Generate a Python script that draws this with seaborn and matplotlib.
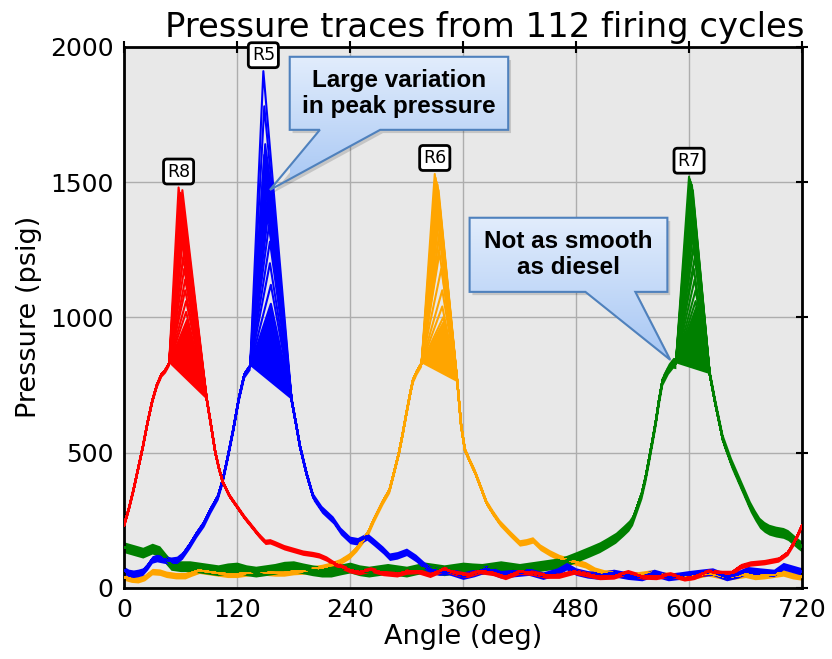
import matplotlib
matplotlib.use('Agg')
import matplotlib.pyplot as plt
import seaborn as sns
import numpy as np
import pandas as pd
from matplotlib.patches import Polygon
from matplotlib.colors import LinearSegmentedColormap

# --- data (crank angle in deg, pressure in psig) ---
# per cylinder: trace up to the combustion shoulder, trace after the peak,
# and the peak (angle, pressure) of a sample of the 112 cycles
r8_rise_angle = [0, 5, 10, 15, 20, 25, 30, 35, 40, 44, 48]
r8_rise_psig = [230, 290, 360, 440, 520, 610, 690, 750, 790, 805, 830]
r8_fall_angle = [88, 92, 97, 101, 105, 112, 120, 128, 135, 143, 150, 155, 160, 170, 180, 190, 200,
                 207, 215, 222, 230, 240, 250, 262, 275, 290, 300, 312, 325, 340, 352, 365, 378,
                 392, 405, 420, 435, 448, 462, 478, 492, 505, 520, 535, 550, 565, 580, 595, 605,
                 620, 635, 645, 655, 665, 680, 695, 705, 712, 720]
r8_fall_psig = [695, 610, 500, 440, 390, 340, 300, 260, 230, 195, 170, 172, 165, 150, 140, 130, 125,
                120, 108, 92, 80, 65, 58, 68, 55, 50, 60, 62, 48, 70, 55, 48, 62,
                55, 40, 60, 55, 45, 45, 60, 50, 40, 42, 58, 42, 40, 50, 35, 40,
                60, 55, 55, 80, 90, 95, 105, 130, 170, 230]
r8_peak_angle = [58, 62, 60, 61, 59, 62, 60, 63, 61, 62, 60, 63, 61, 62, 63, 62, 64, 63, 64, 65,
                 65, 66, 66, 67]
r8_peak_psig = [1480, 1470, 1460, 1450, 1440, 1430, 1420, 1410, 1400, 1390, 1380, 1360, 1340, 1320,
                1300, 1280, 1250, 1220, 1180, 1140, 1100, 1060, 1020, 990]

r5_rise_angle = [0, 5, 10, 15, 20, 25, 30, 35, 42, 50, 56, 62, 70, 77, 85, 92, 100, 105, 110, 116,
                 122, 128, 134]
r5_rise_psig = [65, 55, 52, 55, 60, 80, 105, 110, 105, 100, 103, 120, 160, 200, 240, 290, 340, 400,
                480, 584, 700, 790, 820]
r5_fall_angle = [178, 183, 187, 194, 201, 210, 222, 230, 240, 248, 258, 265, 275, 282, 290, 300, 310,
                 318, 325, 335, 345, 360, 372, 385, 400, 415, 430, 445, 460, 470, 480, 492, 505,
                 520, 535, 550, 563, 578, 590, 600, 612, 625, 640, 652, 662, 675, 690, 700, 710, 720]
r5_fall_psig = [695, 600, 521, 420, 336, 290, 251, 210, 177, 172, 190, 170, 140, 115, 120, 133, 110,
                85, 67, 60, 62, 45, 55, 70, 50, 55, 60, 45, 60, 80, 60, 50, 45,
                55, 45, 40, 55, 40, 45, 50, 55, 60, 40, 50, 65, 60, 55, 80, 70, 60]
r5_peak_angle = [148, 149, 150, 151, 149, 152, 150, 151, 153, 150, 152, 151, 153, 152, 151, 153,
                 154, 152, 153, 154, 155, 155, 156, 156]
r5_peak_psig = [1910, 1780, 1640, 1610, 1600, 1590, 1580, 1570, 1560, 1550, 1540, 1530, 1520, 1500,
                1480, 1460, 1440, 1410, 1380, 1340, 1280, 1200, 1120, 1050]

r6_rise_angle = [0, 8, 15, 22, 30, 38, 45, 55, 65, 72, 80, 90, 100, 110, 120, 130, 140, 150, 160,
                 170, 180, 190, 200, 210, 218, 229, 240, 247, 254, 260, 265, 270, 275, 282, 287,
                 292, 296, 300, 304, 307, 311, 316]
r6_rise_psig = [40, 32, 30, 38, 60, 58, 50, 45, 45, 55, 65, 60, 55, 50, 50, 55, 60, 58, 55,
                55, 60, 62, 70, 75, 82, 96, 120, 145, 177, 210, 250, 285, 320, 362, 430,
                500, 570, 647, 720, 769, 800, 830]
r6_fall_angle = [354, 358, 362, 367, 373, 379, 385, 392, 399, 410, 420, 427, 434, 442, 452, 462, 470,
                 480, 490, 500, 510, 520, 530, 540, 550, 560, 570, 580, 590, 600, 610, 620, 630,
                 640, 650, 660, 670, 680, 690, 700, 710, 720]
r6_fall_psig = [760, 600, 510, 470, 425, 370, 314, 275, 240, 200, 166, 170, 177, 150, 129, 112, 103,
                95, 85, 65, 55, 55, 48, 45, 50, 55, 48, 45, 42, 40, 48, 55, 48,
                40, 45, 50, 42, 45, 50, 55, 45, 40]
r6_peak_angle = [330, 331, 332, 333, 331, 334, 332, 333, 334, 331, 335, 333, 334, 335, 334, 336,
                 335, 336, 335, 337, 338, 338, 339, 339]
r6_peak_psig = [1530, 1515, 1500, 1490, 1480, 1470, 1460, 1450, 1440, 1430, 1420, 1410, 1400, 1380,
                1360, 1340, 1310, 1280, 1240, 1180, 1100, 1040, 1000, 980]

r7_rise_angle = [0, 10, 20, 30, 38, 45, 50, 60, 70, 80, 90, 100, 110, 120, 130, 140, 150, 160, 170,
                 180, 190, 200, 210, 220, 230, 240, 250, 260, 270, 280, 290, 300, 310, 320, 330,
                 340, 350, 360, 370, 380, 390, 400, 410, 420, 430, 440, 450, 460, 470, 481, 495,
                 505, 513, 522, 530, 536, 540, 545, 550, 554, 558, 562, 565, 568, 572, 578, 583, 586]
r7_rise_psig = [150, 140, 130, 145, 135, 105, 85, 80, 80, 75, 70, 65, 72, 75, 65, 60, 65, 70, 78,
                80, 72, 65, 60, 60, 68, 75, 65, 60, 65, 70, 65, 60, 68, 75, 70,
                65, 70, 75, 72, 70, 75, 80, 75, 70, 75, 80, 85, 90, 100, 115, 135,
                150, 166, 185, 210, 230, 251, 300, 350, 410, 484, 560, 620, 690, 769, 810, 832, 830]
r7_fall_angle = [622, 628, 636, 645, 654, 660, 665, 670, 675, 680, 685, 692, 700, 705, 710, 715, 720]
r7_fall_psig = [790, 680, 547, 460, 388, 340, 300, 268, 240, 225, 215, 208, 203, 195, 180, 165, 152]
r7_peak_angle = [600, 601, 602, 603, 601, 604, 602, 603, 604, 600, 605, 603, 604, 605, 603, 605,
                 606, 605, 606, 605, 606, 607, 607, 608]
r7_peak_psig = [1520, 1510, 1500, 1490, 1480, 1470, 1460, 1450, 1440, 1430, 1420, 1400, 1380, 1360,
                1340, 1320, 1290, 1260, 1220, 1180, 1140, 1100, 1060, 1040]

# cycle-to-cycle scatter around the trace (half width, psig)
noise_band = {'R6': 12, 'R7': 20, 'R5': 14, 'R8': 10}

colors = {'R8': '#ff0000', 'R5': '#0000ff', 'R6': '#ffa500', 'R7': '#008000'}
draw_order = ['R6', 'R7', 'R5', 'R8']

cylinders = {
    'R8': (r8_rise_angle, r8_rise_psig, r8_fall_angle, r8_fall_psig, r8_peak_angle, r8_peak_psig),
    'R5': (r5_rise_angle, r5_rise_psig, r5_fall_angle, r5_fall_psig, r5_peak_angle, r5_peak_psig),
    'R6': (r6_rise_angle, r6_rise_psig, r6_fall_angle, r6_fall_psig, r6_peak_angle, r6_peak_psig),
    'R7': (r7_rise_angle, r7_rise_psig, r7_fall_angle, r7_fall_psig, r7_peak_angle, r7_peak_psig),
}

sns.set_style('whitegrid', {'axes.facecolor': '#e8e8e8', 'grid.color': '#adadad',
                            'axes.edgecolor': 'black', 'text.color': 'black',
                            'axes.labelcolor': 'black', 'xtick.color': 'black',
                            'ytick.color': 'black'})
plt.rcParams['font.family'] = ['DejaVu Sans']

fig = plt.figure(figsize=(8.32, 6.59), dpi=100)
ax = fig.add_axes([0.149, 0.108, 0.815, 0.821])

for name in draw_order:
    rise_a, rise_p, fall_a, fall_p, pk_a, pk_p = cylinders[name]
    rows = []
    for cyc, (a, p) in enumerate(zip(pk_a, pk_p)):
        for x, y in zip(rise_a + [a] + fall_a, rise_p + [p] + fall_p):
            rows.append((cyc, x, y))
    df = pd.DataFrame(rows, columns=['cycle', 'angle', 'psig'])
    for seg_a, seg_p in ((rise_a, rise_p), (fall_a, fall_p)):
        seg_p = np.array(seg_p)
        ax.fill_between(seg_a, seg_p - noise_band[name], seg_p + noise_band[name],
                        color=colors[name], lw=0, zorder=2)
    # the lowest cycles fill the base of the peak fan
    low = int(np.argmin(pk_p))
    ax.fill([rise_a[-1], pk_a[low], fall_a[0]], [rise_p[-1], pk_p[low], fall_p[0]],
            color=colors[name], lw=0, zorder=2)
    sns.lineplot(data=df, x='angle', y='psig', units='cycle', estimator=None,
                 color=colors[name], lw=1.5, ax=ax, zorder=3)

    top = int(np.argmax(pk_p))
    ax.annotate(name, xy=(pk_a[top], pk_p[top]), xytext=(0, 5), textcoords='offset points',
                ha='center', va='bottom', fontsize=12.5, zorder=6,
                bbox=dict(boxstyle='round,pad=0.2', fc='white', ec='black', lw=2))

callout_cmap = LinearSegmentedColormap.from_list('callout', ['#a6c6f4', '#e2edfc'])


def callout(x0, x1, y0, y1, b0, b1, tip, text):
    verts = [(x0, y1), (x1, y1), (x1, y0), (b1, y0), tip, (b0, y0), (x0, y0)]
    shadow = Polygon([(vx + 3, vy - 12) for vx, vy in verts], closed=True, fc='#000000',
                     alpha=0.15, lw=0, zorder=7)
    ax.add_patch(shadow)
    outline = Polygon(verts, closed=True, fc='none', ec='#4f81bd', lw=1.5, zorder=9)
    ax.add_patch(outline)
    grad = np.linspace(0, 1, 256).reshape(-1, 1)
    im = ax.imshow(grad, extent=(x0, x1, tip[1], y1), origin='lower', cmap=callout_cmap,
                   aspect='auto', zorder=8, interpolation='bilinear')
    im.set_clip_path(outline)
    ax.text((x0 + x1) / 2, (y0 + y1) / 2, text, ha='center', va='center', fontsize=17.5,
            fontweight='bold', family='Liberation Sans', linespacing=1.15, zorder=10)


callout(176, 408, 1693, 1963, 208, 272, (155, 1471), 'Large variation\nin peak pressure')
callout(367, 577, 1094, 1368, 490, 543, (580, 843), 'Not as smooth\nas diesel')

ax.set_xlim(0, 720)
ax.set_ylim(0, 2000)
ax.set_xticks([0, 120, 240, 360, 480, 600, 720])
ax.set_yticks([0, 500, 1000, 1500, 2000])
ax.grid(True, color='#adadad', lw=1)
ax.set_axisbelow(True)
for s in ax.spines.values():
    s.set_linewidth(2)
    s.set_color('black')
ax.tick_params(direction='inout', length=8, width=1.5, labelsize=18, top=True, right=True,
               labeltop=False, labelright=False)
ax.set_xlabel('Angle (deg)', fontsize=19.5, labelpad=1)
ax.set_ylabel('Pressure (psig)', fontsize=19.5, labelpad=6)
ax.set_title('Pressure traces from 112 firing cycles', fontsize=24.4, pad=7, x=0.532)

fig.savefig('out.png', dpi=100)
